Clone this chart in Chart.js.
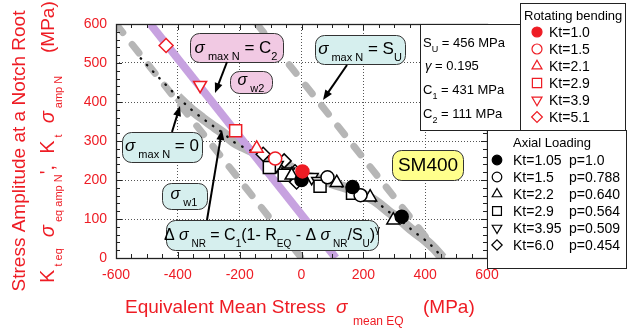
<!DOCTYPE html>
<html>
<head>
<meta charset="utf-8">
<script src="https://cdn.jsdelivr.net/npm/chart.js@4.4.1/dist/chart.umd.min.js"></script>
<style>
  html, body { margin: 0; padding: 0; background: #fff; }
</style>
</head>
<body>
<canvas id="chart" width="629" height="332"></canvas>
<script>
// axis ticks
const xTicks = [-600, -400, -200, 0, 200, 400, 600];
const yTicks = [0, 100, 200, 300, 400, 500, 600];

// rotating bending (one point per Kt)
const rbLabels = ['Kt=1.0', 'Kt=1.5', 'Kt=2.1', 'Kt=2.9', 'Kt=3.9', 'Kt=5.1'];
const rbMean = [3, -85, -145, -213, -328, -438];
const rbAmp = [222, 255, 281, 326, 443, 545];

// axial loading
const axLabels = ['Kt=1.05', 'Kt=1.5', 'Kt=2.2', 'Kt=2.9', 'Kt=3.95', 'Kt=6.0'];
const axP = ['p=1.0', 'p=0.788', 'p=0.640', 'p=0.564', 'p=0.509', 'p=0.454'];
const ax105Mean = [0, 165, 324], ax105Amp = [200, 182, 106];
const ax15Mean = [84, 191], ax15Amp = [207, 161];
const ax22Mean = [-32, 114, 222, 297], ax22Amp = [212, 193, 156, 97];
const ax29Mean = [-104, -56, 60, 165], ax29Amp = [232, 212, 184, 166];
const ax395Mean = [-80, -43, 33, 54], ax395Amp = [238, 221, 207, 197];
const ax60Mean = [-124, -56, -21, -16], ax60Amp = [266, 249, 221, 195];

// fitted curve  dSigma_NR = C1(1 - R_EQ - dSigma_NR/SU)^gamma
const fitMean = [-520, -480, -440, -400, -360, -320, -280, -250, -220, -190, -160, -120, -80, -40, 0, 40, 80, 120, 160, 200, 240, 280, 320, 360, 400, 430, 456];
const fitAmp = [512, 478, 445, 413, 383, 358, 335, 318, 298, 285, 274, 262, 250, 235, 215, 205, 196, 186, 176, 162, 145, 120, 97, 70, 46, 24, 0];

// limit lines
const maxZeroMean = [-600, 0], maxZeroAmp = [600, 0];   // sigma_max = 0
const maxSuMean = [-144, 456], maxSuAmp = [600, 0];     // sigma_max = SU
const maxC2Mean = [-489, 111], maxC2Amp = [600, 0];     // sigma_max = C2

const FONT = '"Liberation Sans", Arial, sans-serif';
const RED = '#ee1c24';
const GRAY = '#b6b6b6';

const zip = (xs, ys) => xs.map((x, i) => ({ x: x, y: ys[i] }));

const shapes = [
  { style: 'circle', rot: 0, r: 6.5 },
  { style: 'circle', rot: 0, r: 6.5 },
  { style: 'triangle', rot: 0, r: 7.5 },
  { style: 'rect', rot: 0, r: 8.5 },
  { style: 'triangle', rot: 180, r: 7.5 },
  { style: 'rectRot', rot: 0, r: 7 }
];

function markerSet(label, pts, i, color, order) {
  const s = shapes[i];
  return {
    label: label,
    data: pts,
    pointStyle: s.style,
    rotation: s.rot,
    pointRadius: s.r,
    pointBorderWidth: 1.5,
    pointBorderColor: color,
    pointBackgroundColor: i === 0 ? color : '#fff',
    showLine: false,
    order: order
  };
}

const datasets = [];
rbLabels.forEach((l, i) => {
  datasets.push(markerSet('RB ' + l, [{ x: rbMean[i], y: rbAmp[i] }], i, RED, 0));
});
const axMeans = [ax105Mean, ax15Mean, ax22Mean, ax29Mean, ax395Mean, ax60Mean];
const axAmps = [ax105Amp, ax15Amp, ax22Amp, ax29Amp, ax395Amp, ax60Amp];
axLabels.forEach((l, i) => {
  datasets.push(markerSet('AX ' + l, zip(axMeans[i], axAmps[i]), i, '#000', 1));
});

const bandPts = zip(fitMean, fitAmp).filter(p => p.x >= -420);
datasets.push({
  label: 'fit dots', data: zip(fitMean, fitAmp), showLine: true, pointRadius: 0,
  borderColor: '#111', borderWidth: 2.4, borderDash: [0.5, 8.5], borderCapStyle: 'round',
  cubicInterpolationMode: 'monotone', order: 2
});
datasets.push({
  label: 'C2', data: zip(maxC2Mean, maxC2Amp), showLine: true, pointRadius: 0,
  borderColor: '#c7a2e0', borderWidth: 8, order: 3
});
datasets.push({
  label: 'fit band', data: bandPts, showLine: true, pointRadius: 0,
  borderColor: GRAY, borderWidth: 10, cubicInterpolationMode: 'monotone', order: 4
});
datasets.push({
  label: 'max 0', data: zip(maxZeroMean, maxZeroAmp), showLine: true, pointRadius: 0,
  borderColor: GRAY, borderWidth: 7, borderDash: [11, 15], borderCapStyle: 'round', order: 5
});
datasets.push({
  label: 'max SU', data: zip(maxSuMean, maxSuAmp), showLine: true, pointRadius: 0,
  borderColor: GRAY, borderWidth: 7, borderDash: [11, 15], borderCapStyle: 'round', order: 5
});

// text with sub/superscripts: parts = [text, kind] kind n|i|s|p
function rich(ctx, x, y, parts, size, sub, color, align) {
  ctx.save();
  ctx.fillStyle = color;
  ctx.textBaseline = 'alphabetic';
  const fontOf = k => (k === 'i' ? 'italic ' : '') + (k === 's' || k === 'p' ? sub : size) + 'px ' + FONT;
  let w = 0;
  parts.forEach(p => { ctx.font = fontOf(p[1]); w += ctx.measureText(p[0]).width; });
  let cx = align === 'center' ? x - w / 2 : x;
  parts.forEach(p => {
    ctx.font = fontOf(p[1]);
    const dy = p[1] === 's' ? size * 0.42 : p[1] === 'p' ? -size * 0.45 : 0;
    ctx.fillText(p[0], cx, y + dy);
    cx += ctx.measureText(p[0]).width;
  });
  ctx.restore();
}

function box(ctx, x, y, w, h, fill) {
  ctx.save();
  ctx.beginPath();
  ctx.roundRect(x + 0.5, y + 0.5, w, h, 9);
  ctx.fillStyle = fill;
  ctx.fill();
  ctx.strokeStyle = '#333';
  ctx.lineWidth = 1;
  ctx.stroke();
  ctx.restore();
}

function arrow(ctx, x1, y1, x2, y2) {
  const a = Math.atan2(y2 - y1, x2 - x1);
  const L = 10, W = 4;
  ctx.save();
  ctx.strokeStyle = '#000';
  ctx.fillStyle = '#000';
  ctx.lineWidth = 2;
  ctx.beginPath();
  ctx.moveTo(x1, y1);
  ctx.lineTo(x2 - Math.cos(a) * L * 0.8, y2 - Math.sin(a) * L * 0.8);
  ctx.stroke();
  ctx.beginPath();
  ctx.moveTo(x2, y2);
  ctx.lineTo(x2 - Math.cos(a) * L - Math.sin(a) * W, y2 - Math.sin(a) * L + Math.cos(a) * W);
  ctx.lineTo(x2 - Math.cos(a) * L + Math.sin(a) * W, y2 - Math.sin(a) * L - Math.cos(a) * W);
  ctx.closePath();
  ctx.fill();
  ctx.restore();
}

function legendMark(ctx, i, x, y, color, r) {
  const s = shapes[i];
  ctx.save();
  ctx.fillStyle = i === 0 ? color : '#fff';
  ctx.strokeStyle = color;
  ctx.lineWidth = 1.2;
  Chart.helpers.drawPoint(ctx, {
    pointStyle: s.style, rotation: s.rot, borderWidth: 1.2,
    radius: r * s.r / 6.5
  }, x, y);
  ctx.restore();
}

const decor = {
  id: 'decor',
  afterDatasetsDraw(chart) {
    const ctx = chart.ctx;
    const a = chart.chartArea;
    const xs = chart.scales.x, ys = chart.scales.y;

    // frame and inward ticks
    ctx.save();
    ctx.strokeStyle = '#222';
    ctx.lineWidth = 1;
    ctx.beginPath();
    for (let v = -600; v <= 600; v += 50) {
      const px = Math.round(xs.getPixelForValue(v)) + 0.5;
      const len = v % 200 === 0 ? 6 : 4;
      ctx.moveTo(px, a.bottom); ctx.lineTo(px, a.bottom - len);
      ctx.moveTo(px, a.top); ctx.lineTo(px, a.top + len);
    }
    for (let v = 0; v <= 600; v += 20) {
      const py = Math.round(ys.getPixelForValue(v)) + 0.5;
      const len = v % 100 === 0 ? 6 : 4;
      ctx.moveTo(a.left, py); ctx.lineTo(a.left + len, py);
      ctx.moveTo(a.right, py); ctx.lineTo(a.right - len, py);
    }
    ctx.stroke();
    ctx.lineWidth = 1.3;
    ctx.strokeRect(a.left + 0.5, a.top + 0.5, a.right - a.left, a.bottom - a.top);
    ctx.restore();

    // annotation boxes
    box(ctx, 190, 33, 93, 29, '#f1c9e3');
    rich(ctx, 236, 53, [['σ', 'i'], [' max N', 's'], [' = C', 'n'], ['2', 's']], 17, 11, '#000', 'center');
    box(ctx, 230, 71, 42, 22, '#f1c9e3');
    rich(ctx, 251, 85, [['σ', 'i'], [' w2', 's']], 16, 11, '#000', 'center');

    box(ctx, 315, 35, 90, 29, '#d6efee');
    rich(ctx, 360, 54, [['σ', 'i'], [' max N', 's'], [' = S', 'n'], ['U', 's']], 17, 11, '#000', 'center');

    box(ctx, 122, 132, 80, 30, '#d6efee');
    rich(ctx, 162, 151, [['σ', 'i'], [' max N', 's'], [' = 0', 'n']], 17, 11, '#000', 'center');

    box(ctx, 162, 183, 45, 26, '#d6efee');
    rich(ctx, 184, 199, [['σ', 'i'], [' w1', 's']], 16, 11, '#000', 'center');

    box(ctx, 166, 220, 212, 30, '#d6efee');
    rich(ctx, 272, 240, [['Δ ', 'n'], ['σ', 'i'], [' NR', 's'], [' = C', 'n'], ['1', 's'], ['(1- R', 'n'], ['EQ', 's'],
      [' - Δ ', 'n'], ['σ', 'i'], [' NR', 's'], ['/S', 'n'], ['U', 's'], [')', 'n'], ['γ', 'p']], 16, 10, '#000', 'center');

    box(ctx, 392, 150, 71, 30, '#ffff8c');
    ctx.save();
    ctx.fillStyle = '#000';
    ctx.font = '19px ' + FONT;
    ctx.textAlign = 'center';
    ctx.textBaseline = 'middle';
    ctx.fillText('SM400', 428, 166);
    ctx.restore();

    // arrows
    arrow(ctx, 227, 62, 215, 93);
    arrow(ctx, 347, 65, 323, 100);
    arrow(ctx, 172, 132, 180, 106);
    arrow(ctx, 207, 220, 222, 130);

    // parameter box
    ctx.save();
    ctx.fillStyle = '#fff';
    ctx.fillRect(420, 24, 100, 106);
    ctx.strokeStyle = '#222';
    ctx.lineWidth = 1;
    ctx.strokeRect(420.5, 24.5, 100, 106);
    ctx.restore();
    rich(ctx, 423, 47, [['S', 'n'], ['U', 's'], [' = 456 MPa', 'n']], 13, 9, '#000', 'left');
    rich(ctx, 425, 70, [['γ', 'i'], [' = 0.195', 'n']], 13, 9, '#000', 'left');
    rich(ctx, 423, 94, [['C', 'n'], ['1', 's'], [' = 431 MPa', 'n']], 13, 9, '#000', 'left');
    rich(ctx, 423, 118, [['C', 'n'], ['2', 's'], [' = 111 MPa', 'n']], 13, 9, '#000', 'left');

    // rotating bending legend
    ctx.save();
    ctx.fillStyle = '#fff';
    ctx.fillRect(520, 3, 105, 127);
    ctx.strokeStyle = '#222';
    ctx.strokeRect(520.5, 3.5, 105, 127);
    ctx.fillStyle = '#000';
    ctx.font = '13px ' + FONT;
    ctx.textBaseline = 'middle';
    ctx.fillText('Rotating bending', 524, 16);
    const rbY = [32, 49, 66, 83, 100, 117];
    rbLabels.forEach((l, i) => {
      legendMark(ctx, i, 537, rbY[i], RED, 5);
      ctx.fillStyle = '#000';
      ctx.font = '14px ' + FONT;
      ctx.fillText(l, 549, rbY[i] + 1);
    });
    ctx.restore();

    // axial legend
    ctx.save();
    ctx.fillStyle = '#fff';
    ctx.fillRect(487, 130, 140, 138);
    ctx.strokeStyle = '#222';
    ctx.strokeRect(487.5, 130.5, 139, 138);
    ctx.fillStyle = '#000';
    ctx.font = '13px ' + FONT;
    ctx.textBaseline = 'middle';
    ctx.fillText('Axial Loading', 513, 143);
    const axY = [160, 177, 194, 211, 228, 245];
    axLabels.forEach((l, i) => {
      legendMark(ctx, i, 497, axY[i], '#000', 4.8);
      ctx.fillStyle = '#000';
      ctx.font = '14px ' + FONT;
      ctx.fillText(l, 513, axY[i] + 1);
      ctx.fillText(axP[i], 569, axY[i] + 1);
    });
    ctx.restore();

    // x title
    ctx.save();
    ctx.fillStyle = RED;
    ctx.font = '19px ' + FONT;
    ctx.textBaseline = 'alphabetic';
    ctx.fillText('Equivalent Mean Stress', 125, 313);
    ctx.font = 'italic 19px ' + FONT;
    ctx.fillText('σ', 336, 313);
    ctx.font = '12px ' + FONT;
    ctx.fillText('mean EQ', 353, 325);
    ctx.font = '19px ' + FONT;
    ctx.fillText('(MPa)', 423, 313);
    ctx.restore();

    // y title
    ctx.save();
    ctx.translate(20, 151);
    ctx.rotate(-Math.PI / 2);
    ctx.fillStyle = RED;
    ctx.font = '19px ' + FONT;
    ctx.textAlign = 'center';
    ctx.textBaseline = 'middle';
    ctx.fillText('Stress Amplitude at a Notch Root', 0, 0);
    ctx.restore();

    ctx.save();
    ctx.translate(54, 283);
    ctx.rotate(-Math.PI / 2);
    rich(ctx, 0, 0, [['K', 'n'], [' t eq', 's'], ['  σ', 'i'], [' eq amp N', 's'], ['\',  K', 'n'], [' t', 's'], ['  σ', 'i'], [' amp N', 's']], 20, 11, RED, 'left');
    ctx.fillStyle = RED;
    ctx.font = '19px ' + FONT;
    ctx.fillText('(MPa)', 230, 0);
    ctx.restore();
  }
};

const gridColor = (c) => {
  const v = c.tick.value;
  return (v === -600 || v === 600 || v === 0 && c.scale.axis === 'y') ? 'rgba(0,0,0,0)' : '#555';
};

new Chart(document.getElementById('chart'), {
  type: 'scatter',
  data: { datasets: datasets },
  options: {
    responsive: false,
    animation: false,
    devicePixelRatio: 1,
    layout: { padding: { top: 24, right: 142, bottom: 0, left: 0 } },
    plugins: { legend: { display: false }, tooltip: { enabled: false } },
    scales: {
      x: {
        type: 'linear', min: xTicks[0], max: xTicks[xTicks.length - 1],
        afterBuildTicks: s => { s.ticks = xTicks.map(v => ({ value: v })); },
        ticks: { color: RED, font: { size: 14, family: FONT }, padding: 9, maxRotation: 0, autoSkip: false },
        grid: { drawTicks: false, color: gridColor, lineWidth: 1 },
        border: { display: false, dash: [1, 2] },
        afterFit: s => { s.height = 74; }
      },
      y: {
        type: 'linear', min: yTicks[0], max: yTicks[yTicks.length - 1],
        afterBuildTicks: s => { s.ticks = yTicks.map(v => ({ value: v })); },
        ticks: { color: RED, font: { size: 14, family: FONT }, padding: 9, autoSkip: false },
        grid: { drawTicks: false, color: gridColor, lineWidth: 1 },
        border: { display: false, dash: [1, 2] },
        afterFit: s => { s.width = 116; }
      }
    }
  },
  plugins: [decor]
});
</script>
</body>
</html>
